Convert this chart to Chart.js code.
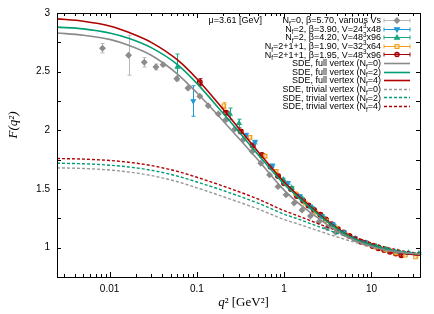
<!DOCTYPE html>
<html lang="en">
<head>
<meta charset="UTF-8">
<title>F(q2): lattice vs SDE</title>
<script src="https://cdn.jsdelivr.net/npm/chart.js"></script>
<style>
  html, body { margin: 0; padding: 0; background: #fff; }
  .chart-box { position: relative; width: 434px; height: 314px; }
</style>
</head>
<body>
<div class="chart-box"><canvas id="fChart" width="434" height="314"></canvas></div>
<script>
// ---- lattice data: q^2 [GeV^2], F(q^2), error ----
const nf0Q   = [0.0083, 0.0165, 0.025, 0.034, 0.041, 0.059, 0.079, 0.108, 0.135, 0.176, 0.215, 0.272, 0.34, 0.43, 0.54, 0.68, 0.85, 1.05, 1.3, 1.6, 2.0, 2.5, 3.1, 3.9];
const nf0F   = [2.70, 2.64, 2.58, 2.54, 2.56, 2.44, 2.36, 2.29, 2.21, 2.14, 2.09, 2.01, 1.92, 1.82, 1.72, 1.62, 1.52, 1.45, 1.38, 1.32, 1.27, 1.22, 1.17, 1.13];
const nf0Err = [0.04, 0.17, 0.04, 0.025, 0.015, 0.02, 0.015, 0.01, 0.01, 0.01, 0.01, 0.01, 0.008, 0.008, 0.008, 0.008, 0.008, 0.008, 0.008, 0.008, 0.008, 0.008, 0.008, 0.008];

const b390Q   = [0.091, 0.366, 0.464, 0.735, 1.10, 1.5, 2.0, 2.7, 3.6, 4.8, 6.4, 8.5];
const b390F   = [2.25, 1.96, 1.90, 1.70, 1.55, 1.44, 1.35, 1.27, 1.20, 1.13, 1.08, 1.045];
const b390Err = [0.13, 0.015, 0.015, 0.012, 0.01, 0.01, 0.01, 0.008, 0.008, 0.008, 0.008, 0.008];

const b420Q   = [0.06, 0.239, 0.304, 0.98, 1.22, 1.6, 2.1, 2.8, 3.7, 4.9, 6.5, 8.6, 11.4, 15, 20, 26.5, 35];
const b420F   = [2.54, 2.14, 2.06, 1.58, 1.51, 1.42, 1.34, 1.26, 1.19, 1.12, 1.075, 1.04, 1.01, 0.985, 0.965, 0.955, 0.95];
const b420Err = [0.11, 0.05, 0.035, 0.012, 0.01, 0.01, 0.01, 0.008, 0.008, 0.008, 0.008, 0.008, 0.008, 0.008, 0.008, 0.008, 0.008];

const b190Q   = [0.204, 0.406, 0.605, 0.81, 1.05, 1.35, 1.75, 2.3, 3.0, 3.9, 5.1, 6.6, 8.6, 11.2, 14.6, 19, 24.5, 32];
const b190F   = [2.21, 1.94, 1.78, 1.65, 1.55, 1.46, 1.38, 1.30, 1.23, 1.17, 1.11, 1.07, 1.035, 1.005, 0.98, 0.955, 0.935, 0.92];
const b190Err = [0.025, 0.015, 0.015, 0.012, 0.01, 0.01, 0.01, 0.008, 0.008, 0.008, 0.008, 0.008, 0.008, 0.008, 0.008, 0.008, 0.008, 0.008];

const b195Q   = [0.108, 0.215, 0.318, 0.436, 0.555, 0.7, 0.85, 1.0, 1.2, 1.4, 1.65, 1.9, 2.2, 2.6, 3.0, 3.5, 4.1, 4.8, 5.6, 6.5, 7.6, 8.8, 10.3, 12, 14, 16.3, 19, 22];
const b195F   = [2.41, 2.15, 1.99, 1.87, 1.79, 1.69, 1.61, 1.55, 1.50, 1.44, 1.40, 1.36, 1.32, 1.28, 1.24, 1.20, 1.16, 1.13, 1.10, 1.075, 1.05, 1.035, 1.015, 0.995, 0.98, 0.965, 0.95, 0.935];
const b195Err = [0.03, 0.015, 0.012, 0.01, 0.01, 0.01, 0.01, 0.008, 0.008, 0.008, 0.008, 0.008, 0.008, 0.008, 0.008, 0.008, 0.008, 0.008, 0.008, 0.008, 0.008, 0.008, 0.008, 0.008, 0.008, 0.008, 0.008, 0.008];

// ---- SDE curves ----
const sdeQ     = [0.0025, 0.005, 0.01, 0.0165, 0.03, 0.06, 0.1, 0.2, 0.5, 1, 1.4, 2, 3, 5, 10, 20, 36];
const fullNf0  = [2.83, 2.81, 2.775, 2.725, 2.64, 2.48, 2.32, 2.08, 1.75, 1.49, 1.39, 1.30, 1.205, 1.10, 1.01, 0.962, 0.945];
const fullNf2  = [2.88, 2.865, 2.83, 2.785, 2.705, 2.56, 2.40, 2.145, 1.795, 1.54, 1.44, 1.34, 1.23, 1.115, 1.02, 0.965, 0.945];
const fullNf4  = [2.95, 2.93, 2.89, 2.835, 2.75, 2.60, 2.44, 2.18, 1.82, 1.56, 1.455, 1.35, 1.24, 1.12, 1.02, 0.96, 0.935];
const trivNf0  = [1.68, 1.675, 1.662, 1.645, 1.615, 1.562, 1.51, 1.435, 1.33, 1.24, 1.205, 1.167, 1.123, 1.07, 1.01, 0.965, 0.945];
const trivNf2  = [1.72, 1.715, 1.703, 1.688, 1.66, 1.61, 1.56, 1.487, 1.38, 1.285, 1.248, 1.205, 1.158, 1.10, 1.03, 0.975, 0.95];
const trivNf4  = [1.76, 1.755, 1.743, 1.728, 1.70, 1.65, 1.60, 1.525, 1.415, 1.315, 1.275, 1.23, 1.18, 1.12, 1.04, 0.98, 0.95];

const xTickLabels = [0.01, 0.1, 1, 10];
const yTickLabels = [1, 1.5, 2, 2.5, 3];

const SANS = '"Liberation Sans", Arial, sans-serif';
const SERIF = '"Liberation Serif", "DejaVu Serif", serif';

const pts = (q, f, e) => q.map((x, i) => ({ x: x, y: f[i], err: e ? e[i] : 0 }));

function latticeSet(label, q, f, e, color, barColor, style, rot, fill) {
  return {
    label: label, data: pts(q, f, e), order: 1,
    showLine: false, pointStyle: style, rotation: rot || 0,
    pointRadius: style === 'rectRot' ? 2.6 : 2.4, pointHoverRadius: 3,
    borderColor: color, backgroundColor: fill, borderWidth: 1.2,
    barColor: barColor
  };
}
function curveSet(label, f, color, dash) {
  return {
    label: label, data: pts(sdeQ, f), order: 0,
    showLine: true, pointRadius: 0, borderColor: color, backgroundColor: color,
    borderWidth: dash ? 1.4 : 1.6, borderDash: dash ? [3, 2] : [],
    cubicInterpolationMode: 'monotone'
  };
}

const datasets = [
  latticeSet('N_{f}=0, β=5.70, various Vs', nf0Q, nf0F, nf0Err, '#8c8c8c', '#b8b8b8', 'rectRot', 0, '#8c8c8c'),
  latticeSet('N_{f}=2, β=3.90, V=24^{3}x48', b390Q, b390F, b390Err, '#1f9ad6', '#1f9ad6', 'triangle', 180, '#1f9ad6'),
  latticeSet('N_{f}=2, β=4.20, V=48^{3}x96', b420Q, b420F, b420Err, '#1aa883', '#1aa883', 'triangle', 0, '#1aa883'),
  latticeSet('N_{f}=2+1+1, β=1.90, V=32^{3}x64', b190Q, b190F, b190Err, '#f2a01c', '#f2a01c', 'rect', 0, 'rgba(255,255,255,0.6)'),
  latticeSet('N_{f}=2+1+1, β=1.95, V=48^{3}x96', b195Q, b195F, b195Err, '#a80000', '#a80000', 'circle', 0, 'rgba(168,0,0,0.55)'),
  curveSet('SDE, full vertex (N_{f}=0)', fullNf0, '#8a8a8a', false),
  curveSet('SDE, full vertex (N_{f}=2)', fullNf2, '#009e73', false),
  curveSet('SDE, full vertex (N_{f}=4)', fullNf4, '#b00000', false),
  curveSet('SDE, trivial vertex (N_{f}=0)', trivNf0, '#9a9a9a', true),
  curveSet('SDE, trivial vertex (N_{f}=2)', trivNf2, '#009e73', true),
  curveSet('SDE, trivial vertex (N_{f}=4)', trivNf4, '#b00000', true)
];

// text with _{sub} and ^{sup}
function richText(ctx, text, xRight, yMid, size) {
  const parts = [];
  const re = /([_^])\{([^}]*)\}/g;
  let last = 0, m;
  while ((m = re.exec(text))) {
    if (m.index > last) parts.push({ t: text.slice(last, m.index), k: '' });
    parts.push({ t: m[2], k: m[1] });
    last = re.lastIndex;
  }
  if (last < text.length) parts.push({ t: text.slice(last), k: '' });
  let w = 0;
  parts.forEach(p => {
    ctx.font = (p.k ? size * 0.7 : size) + 'px ' + SANS;
    p.w = ctx.measureText(p.t).width;
    w += p.w;
  });
  let x = xRight - w;
  const base = yMid + size * 0.36;
  ctx.textAlign = 'left';
  ctx.textBaseline = 'alphabetic';
  parts.forEach(p => {
    ctx.font = (p.k ? size * 0.7 : size) + 'px ' + SANS;
    const dy = p.k === '_' ? size * 0.28 : (p.k === '^' ? -size * 0.42 : 0);
    ctx.fillText(p.t, x, base + dy);
    x += p.w;
  });
}

function marker(ctx, ds, x, y) {
  const r = ds.pointRadius;
  ctx.save();
  ctx.fillStyle = ds.backgroundColor;
  ctx.strokeStyle = ds.borderColor;
  ctx.lineWidth = ds.borderWidth;
  ctx.beginPath();
  if (ds.pointStyle === 'rectRot') {
    ctx.moveTo(x, y - r); ctx.lineTo(x + r, y); ctx.lineTo(x, y + r); ctx.lineTo(x - r, y); ctx.closePath();
  } else if (ds.pointStyle === 'triangle') {
    const s = ds.rotation ? -1 : 1;
    ctx.moveTo(x, y - s * r); ctx.lineTo(x + r, y + s * r * 0.7); ctx.lineTo(x - r, y + s * r * 0.7); ctx.closePath();
  } else if (ds.pointStyle === 'rect') {
    ctx.rect(x - r * 0.8, y - r * 0.8, r * 1.6, r * 1.6);
  } else {
    ctx.arc(x, y, r * 0.9, 0, Math.PI * 2);
  }
  ctx.fill(); ctx.stroke();
  ctx.restore();
}

const decorPlugin = {
  id: 'decor',
  beforeDatasetDraw(chart, args) {
    const ds = chart.data.datasets[args.index];
    if (!ds.barColor) return;
    const xs = chart.scales.x, ys = chart.scales.y, ctx = chart.ctx;
    ctx.save();
    ctx.strokeStyle = ds.barColor;
    ctx.lineWidth = 1;
    ds.data.forEach(p => {
      if (!p.err) return;
      const px = Math.round(xs.getPixelForValue(p.x)) + 0.5;
      const y1 = ys.getPixelForValue(p.y - p.err), y2 = ys.getPixelForValue(p.y + p.err);
      ctx.beginPath();
      ctx.moveTo(px, y1); ctx.lineTo(px, y2);
      ctx.moveTo(px - 2, y1); ctx.lineTo(px + 2, y1);
      ctx.moveTo(px - 2, y2); ctx.lineTo(px + 2, y2);
      ctx.stroke();
    });
    ctx.restore();
  },
  afterDraw(chart) {
    const ctx = chart.ctx, a = chart.chartArea;
    const xs = chart.scales.x, ys = chart.scales.y;
    ctx.save();
    // inward ticks on all sides
    ctx.strokeStyle = '#000';
    ctx.lineWidth = 1;
    ctx.beginPath();
    for (let d = -3; d <= 2; d++) {
      for (let k = 1; k <= 9; k++) {
        const v = k * Math.pow(10, d);
        if (v < xs.min || v > xs.max) continue;
        const px = Math.round(xs.getPixelForValue(v)) + 0.5;
        const len = k === 1 ? 5 : 3;
        ctx.moveTo(px, a.bottom); ctx.lineTo(px, a.bottom - len);
        ctx.moveTo(px, a.top); ctx.lineTo(px, a.top + len);
      }
    }
    for (let v = 1; v <= 3; v += 0.25) {
      const py = Math.round(ys.getPixelForValue(v)) + 0.5;
      ctx.moveTo(a.left, py); ctx.lineTo(a.left + 4, py);
      ctx.moveTo(a.right, py); ctx.lineTo(a.right - 4, py);
    }
    ctx.stroke();
    // frame
    ctx.strokeRect(Math.round(a.left) + 0.5, Math.round(a.top) + 0.5, Math.round(a.right - a.left), Math.round(a.bottom - a.top));

    // legend
    ctx.fillStyle = '#000';
    const rx = 381, lx0 = 384, lx1 = 410, top = 20, step = 8.6, fs = 9;
    richText(ctx, 'μ=3.61 [GeV]', 262, top, fs);
    chart.data.datasets.forEach((ds, i) => {
      const y = top + i * step;
      ctx.fillStyle = '#000';
      richText(ctx, ds.label, rx, y, fs);
      const yy = Math.round(y) + 0.5;
      ctx.save();
      if (ds.barColor) {
        ctx.strokeStyle = ds.barColor;
        ctx.lineWidth = 1;
        ctx.beginPath();
        ctx.moveTo(lx0, yy); ctx.lineTo(lx1, yy);
        ctx.moveTo(lx0, yy - 2); ctx.lineTo(lx0, yy + 2);
        ctx.moveTo(lx1, yy - 2); ctx.lineTo(lx1, yy + 2);
        ctx.stroke();
        marker(ctx, ds, (lx0 + lx1) / 2, yy);
      } else {
        ctx.strokeStyle = ds.borderColor;
        ctx.lineWidth = ds.borderWidth;
        ctx.setLineDash(ds.borderDash);
        ctx.beginPath();
        ctx.moveTo(lx0, yy); ctx.lineTo(lx1, yy);
        ctx.stroke();
      }
      ctx.restore();
    });

    // axis titles
    ctx.fillStyle = '#000';
    ctx.textBaseline = 'middle';
    const cx = (a.left + a.right) / 2 + 5, cy = 303;
    ctx.font = 'italic 13px ' + SERIF;
    const wq = ctx.measureText('q').width;
    ctx.font = '13px ' + SERIF;
    const rest = '² [GeV²]';
    const wr = ctx.measureText(rest).width;
    let x0 = cx - (wq + wr) / 2;
    ctx.textAlign = 'left';
    ctx.font = 'italic 13px ' + SERIF;
    ctx.fillText('q', x0, cy);
    ctx.font = '13px ' + SERIF;
    ctx.fillText(rest, x0 + wq, cy);

    ctx.translate(14, (a.top + a.bottom) / 2 - 20);
    ctx.rotate(-Math.PI / 2);
    ctx.textAlign = 'center';
    ctx.font = 'italic 13px ' + SERIF;
    ctx.fillText('F(q²)', 0, 0);
    ctx.restore();
  }
};

const isDecade = v => Math.abs(Math.log10(v) - Math.round(Math.log10(v))) < 1e-6;

new Chart(document.getElementById('fChart'), {
  type: 'scatter',
  data: { datasets: datasets },
  plugins: [decorPlugin],
  options: {
    responsive: false,
    animation: false,
    devicePixelRatio: 1,
    layout: { padding: { top: 12, right: 14, left: 0, bottom: 0 } },
    plugins: { legend: { display: false }, tooltip: { enabled: false } },
    scales: {
      x: {
        type: 'logarithmic', min: 0.0025, max: 36,
        grid: { display: false, drawTicks: false },
        border: { display: false },
        ticks: {
          autoSkip: false, maxRotation: 0, padding: 6, color: '#000',
          font: { family: SANS, size: 10 },
          callback: v => (isDecade(v) && xTickLabels.some(t => Math.abs(t - v) / t < 1e-6)) ? String(xTickLabels.find(t => Math.abs(t - v) / t < 1e-6)) : ''
        },
        afterFit: s => { s.height = 37; }
      },
      y: {
        type: 'linear', min: 0.75, max: 3,
        grid: { display: false, drawTicks: false },
        border: { display: false },
        ticks: {
          stepSize: 0.25, padding: 7, color: '#000',
          font: { family: SANS, size: 10 },
          callback: v => yTickLabels.includes(v) ? String(v) : ''
        },
        afterFit: s => { s.width = 57; }
      }
    }
  }
});
</script>
</body>
</html>
